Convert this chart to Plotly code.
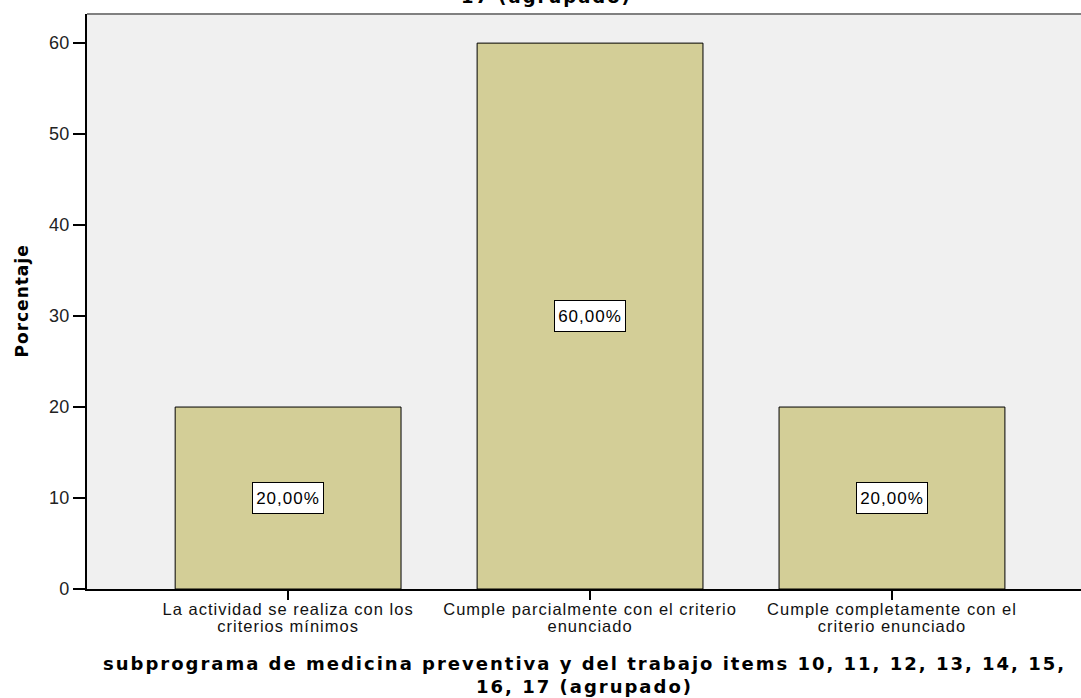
import plotly.graph_objects as go

categories = [
    "La actividad se realiza con los<br>criterios mínimos",
    "Cumple parcialmente con el criterio<br>enunciado",
    "Cumple completamente con el<br>criterio enunciado",
]
values = [20.0, 60.0, 20.0]
labels = ["20,00%", "60,00%", "20,00%"]
y_ticks = [0, 10, 20, 30, 40, 50, 60]

x_title = ("subprograma de medicina preventiva y del trabajo items 10, 11, 12, 13, 14, 15,"
           "<br>16, 17 (agrupado)")
top_title_tail = "17 (agrupado)"
y_title = "Porcentaje"

FONT = "Liberation Sans, Arial, sans-serif"
BFONT = "DejaVu Sans, Verdana, sans-serif"


def sty(text, size, spacing, bold=False):
    out = []
    for line in text.split("<br>"):
        s = f'<span style="font-size:{size}px;letter-spacing:{spacing}px">{line}</span>'
        if bold:
            s = "<b>" + s + "</b>"
        out.append(s)
    return "<br>".join(out)


xs = list(range(len(categories)))

fig = go.Figure()
fig.add_trace(go.Bar(
    x=xs, y=values, width=0.748,
    marker=dict(color="#d3ce97", line=dict(color="#000000", width=1)),
    hoverinfo="skip",
))

for xi, v, lab in zip(xs, values, labels):
    fig.add_annotation(
        x=xi, y=v / 2, xref="x", yref="y", text=sty(lab, 17, 1), showarrow=False,
        font=dict(family=FONT, size=17, color="#000000"),
        width=64, height=24,
        bgcolor="#ffffff", bordercolor="#000000", borderwidth=1, borderpad=3,
    )

# x-axis title (two lines)
fig.add_annotation(
    x=0.5, y=-0.108, xref="paper", yref="paper", text=sty(x_title, 18, 2.0, bold=True),
    showarrow=False, xanchor="center", yanchor="top",
    font=dict(family=BFONT, size=17.5, color="#000000"),
)
# tail of the chart title, mostly cut off at top of picture
fig.add_annotation(
    x=0.462, y=1.0087, xref="paper", yref="paper", text=sty(top_title_tail, 18, 2.0, bold=True),
    showarrow=False, xanchor="center", yanchor="bottom",
    font=dict(family=BFONT, size=17.5, color="#000000"),
)
# y-axis title
fig.add_annotation(
    x=0, y=0.5, xref="paper", yref="paper", xshift=-66, text=sty(y_title, 17, 1.0, bold=True),
    showarrow=False, xanchor="center", yanchor="middle", textangle=-90,
    font=dict(family=BFONT, size=17, color="#000000"),
)

fig.update_layout(
    width=1081, height=698,
    margin=dict(l=87, r=0, t=14, b=109),
    paper_bgcolor="#ffffff", plot_bgcolor="#f0f0f0",
    showlegend=False,
    font=dict(family=FONT, size=13, color="#111111"),
    xaxis=dict(
        range=[-0.666, 2.626], tickmode="array", tickvals=xs,
        ticktext=[sty(c, 16.5, 1) for c in categories],
        ticks="outside", ticklen=9, tickcolor="#000000", tickwidth=1.5,
        showline=True, linecolor="#000000", linewidth=1.5, mirror=False,
        showgrid=False, zeroline=False,
        tickfont=dict(family=FONT, size=13, color="#111111"),
    ),
    yaxis=dict(
        range=[0, 63.2], tickmode="array", tickvals=y_ticks,
        ticktext=[sty(str(t), 18, 0.3) for t in y_ticks],
        ticks="outside", ticklen=12, tickcolor="#000000", tickwidth=1.5,
        showline=True, linecolor="#000000", linewidth=1.5,
        showgrid=False, zeroline=False,
        tickfont=dict(family=FONT, size=18, color="#222222"),
    ),
)

fig.add_shape(type="line", xref="paper", yref="paper", x0=0, x1=1, y0=1, y1=1,
              line=dict(color="#808080", width=2))

fig.write_html("out.html", config={"displayModeBar": False},
               post_script="document.body.style.margin='0';document.body.style.padding='0';")
